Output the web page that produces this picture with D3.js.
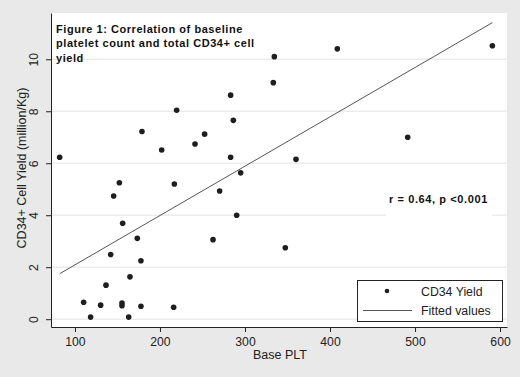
<!DOCTYPE html>
<html>
<head>
<meta charset="utf-8">
<script src="https://cdn.jsdelivr.net/npm/d3@7"></script>
<style>
  body { margin: 0; background: #e9e9e9; }
  svg { display: block; font-family: "Liberation Sans", Arial, sans-serif; }
</style>
</head>
<body>
<svg id="chart"></svg>
<script>
// values
const basePlt = [82, 219.6, 178.8, 202, 241.2, 152.2, 145.5, 216.9, 156.1, 173.3,
  142, 177.6, 164.7, 136.5, 110.2, 130.2, 155.3, 155.3, 177.6, 216.1,
  118.4, 163.2, 408.6, 334.5, 333.3, 283.1, 286.3, 252.5, 283.1, 360,
  294.9, 270.2, 290.2, 262.4, 347.4, 591, 491.4];
const cd34Yield = [6.23, 8.04, 7.22, 6.51, 6.74, 5.25, 4.74, 5.2, 3.69, 3.11,
  2.49, 2.25, 1.63, 1.31, 0.65, 0.54, 0.62, 0.52, 0.5, 0.46,
  0.08, 0.08, 10.4, 10.1, 9.1, 8.62, 7.65, 7.12, 6.23, 6.15,
  5.63, 4.93, 4.0, 3.06, 2.75, 10.52, 7.0];
const fitX = [82, 591];
const fitY = [1.75, 11.41];
const xTicks = [100, 200, 300, 400, 500, 600];
const yTicks = [0, 2, 4, 6, 8, 10];
const titleLines = ["Figure 1: Correlation of baseline", "platelet count and total CD34+ cell", "yield"];

const width = 520, height = 377;
const margin = {top: 13, right: 13, bottom: 50, left: 51};

const svg = d3.select("#chart").attr("width", width).attr("height", height);

const x = d3.scaleLinear().domain([71.8, 608.2]).range([margin.left, width - margin.right]);
const y = d3.scaleLinear().domain([-0.3, 11.78]).range([height - margin.bottom, margin.top]);

// white plot region
svg.append("rect")
  .attr("x", margin.left).attr("y", margin.top)
  .attr("width", width - margin.left - margin.right)
  .attr("height", height - margin.top - margin.bottom)
  .attr("fill", "#ffffff");

// gridlines
svg.append("g")
  .selectAll("line")
  .data(yTicks)
  .join("line")
  .attr("x1", margin.left).attr("x2", width - margin.right)
  .attr("y1", d => y(d)).attr("y2", d => y(d))
  .attr("stroke", "#ececec")
  .attr("stroke-width", 1.5);

// fitted line
svg.append("line")
  .attr("x1", x(fitX[0])).attr("y1", y(fitY[0]))
  .attr("x2", x(fitX[1])).attr("y2", y(fitY[1]))
  .attr("stroke", "#555")
  .attr("stroke-width", 1);

// points
svg.append("g")
  .selectAll("circle")
  .data(basePlt.map((v, i) => ({x: v, y: cd34Yield[i]})))
  .join("circle")
  .attr("cx", d => x(d.x))
  .attr("cy", d => y(d.y))
  .attr("r", 2.8)
  .attr("fill", "#1e1e1e");

// x axis
const xAxis = svg.append("g")
  .attr("transform", "translate(0," + (height - margin.bottom) + ")")
  .call(d3.axisBottom(x).tickValues(xTicks).tickSize(5).tickSizeOuter(0).tickPadding(5));
xAxis.select(".domain").attr("stroke", "#222");
xAxis.selectAll(".tick line").attr("stroke", "#222");
xAxis.selectAll("text").attr("font-size", 12.2).attr("fill", "#222")
  .attr("font-family", "Liberation Sans, Arial, sans-serif");

// y axis
const yAxis = svg.append("g")
  .attr("transform", "translate(" + margin.left + ",0)")
  .call(d3.axisLeft(y).tickValues(yTicks).tickSize(5).tickSizeOuter(0).tickPadding(4));
yAxis.select(".domain").attr("stroke", "#222");
yAxis.selectAll(".tick line").attr("stroke", "#222");
yAxis.selectAll("text")
  .attr("font-size", 12.2).attr("fill", "#222")
  .attr("font-family", "Liberation Sans, Arial, sans-serif")
  .attr("x", 0).attr("dy", 0)
  .attr("text-anchor", "middle")
  .attr("transform", "translate(-13,0) rotate(-90)");

// axis titles
svg.append("text")
  .attr("x", 280).attr("y", 359)
  .attr("text-anchor", "middle")
  .attr("font-size", 12.5).attr("fill", "#222")
  .text("Base PLT");

svg.append("text")
  .attr("transform", "translate(26,168) rotate(-90)")
  .attr("text-anchor", "middle")
  .attr("font-size", 12.5).attr("fill", "#222")
  .text("CD34+ Cell Yield (million/Kg)");

// title inside plot
svg.append("text")
  .attr("x", 56).attr("y", 33)
  .attr("font-size", 11).attr("font-weight", "bold")
  .attr("letter-spacing", 0.55).attr("fill", "#111")
  .selectAll("tspan")
  .data(titleLines)
  .join("tspan")
  .attr("x", 56)
  .attr("dy", (d, i) => i === 0 ? 0 : 14.3)
  .text(d => d);

// stat label
svg.append("rect")
  .attr("x", 386).attr("y", 190).attr("width", 106).attr("height", 30)
  .attr("fill", "#ffffff");
svg.append("text")
  .attr("x", 389).attr("y", 203)
  .attr("font-size", 11).attr("font-weight", "bold")
  .attr("letter-spacing", 0.6).attr("fill", "#111")
  .text("r = 0.64, p <0.001");

// legend
const legend = svg.append("g");
legend.append("rect")
  .attr("x", 357.5).attr("y", 280.5).attr("width", 145).attr("height", 41)
  .attr("fill", "#fff").attr("stroke", "#222").attr("stroke-width", 1);
legend.append("circle")
  .attr("cx", 387).attr("cy", 291).attr("r", 2.3).attr("fill", "#1e1e1e");
legend.append("line")
  .attr("x1", 363).attr("x2", 412).attr("y1", 310.5).attr("y2", 310.5)
  .attr("stroke", "#555");
legend.append("text")
  .attr("x", 421).attr("y", 295.5)
  .attr("font-size", 12.3).attr("fill", "#222")
  .text("CD34 Yield");
legend.append("text")
  .attr("x", 421).attr("y", 314.5)
  .attr("font-size", 12.3).attr("fill", "#222")
  .text("Fitted values");
</script>
</body>
</html>
